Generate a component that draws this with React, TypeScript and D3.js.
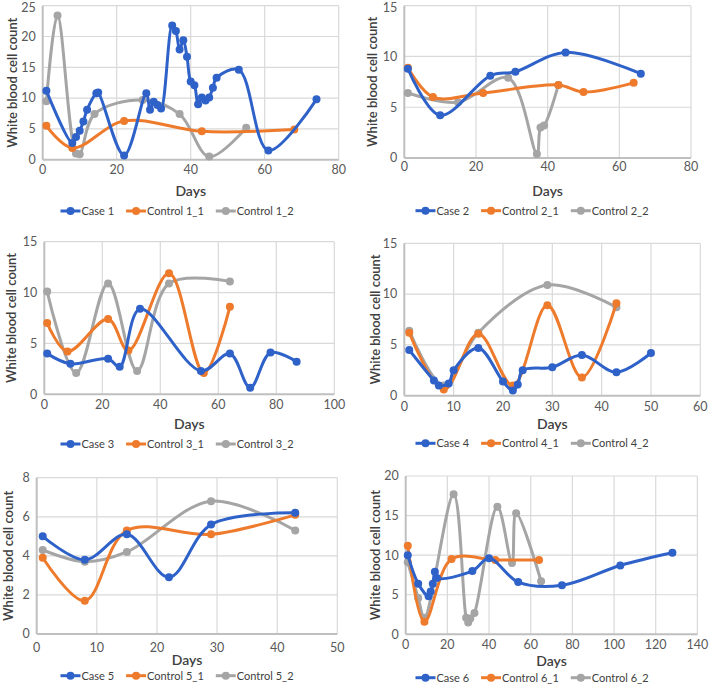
import React, { useEffect, useRef } from "react";
import * as d3 from "d3";

type Pt = [number, number];

// ---------- DATA ----------
const case1: Pt[] = [[1,11.2],[8,2.7],[9,3.7],[10,4.7],[11,6.2],[12,8.1],[14.5,10.8],[15,10.9],[22,0.7],[28,10.8],[29,8.1],[30,9.4],[31,8.9],[32,8.3],[35,21.8],[36,20.9],[37,17.9],[38,19.4],[39,16.7],[40,12.7],[41,12.1],[42,9.0],[43,10.1],[44,9.6],[45,10.1],[46,11.7],[47,13.3],[53,14.6],[61,1.5],[74,9.8]];
const control1_1: Pt[] = [[1,5.5],[8,1.9],[22,6.3],[43,4.6],[68,4.9]];
const control1_2: Pt[] = [[1,9.5],[4,23.4],[9,1.0],[10,0.9],[14,7.4],[27,9.7],[37,7.4],[45,0.5],[55,5.2]];

const case2: Pt[] = [[1,8.8],[10,4.2],[24,8.1],[31,8.5],[45,10.4],[66,8.3]];
const control2_1: Pt[] = [[1,8.9],[8,6.0],[22,6.4],[43,7.2],[50,6.5],[64,7.4]];
const control2_2: Pt[] = [[1,6.4],[15,5.5],[29,7.9],[37,0.4],[38,3.0],[39,3.2],[43,7.2]];

const case3: Pt[] = [[1,4.0],[9,3.0],[22,3.5],[26,2.7],[33,8.4],[54,2.3],[64,4.0],[71,0.65],[78,4.1],[87,3.2]];
const control3_1: Pt[] = [[1,7.0],[8,4.2],[22,7.4],[29,4.3],[43,11.9],[55,2.1],[64,8.6]];
const control3_2: Pt[] = [[1,10.1],[11,2.1],[22,10.9],[32,2.3],[43,10.9],[64,11.1]];

const case4: Pt[] = [[1,4.5],[6,1.5],[7,1.0],[9,1.2],[10,2.5],[15,4.7],[20,1.4],[22,0.5],[23,1.1],[24,2.5],[30,2.8],[36,4.0],[43,2.3],[50,4.2]];
const control4_1: Pt[] = [[1,6.2],[8,0.6],[15,6.1],[22,1.0],[29,8.9],[36,1.8],[43,9.1]];
const control4_2: Pt[] = [[1,6.4],[8,1.0],[15,6.2],[29,10.9],[43,8.7]];

const case5: Pt[] = [[1,5.0],[8,3.8],[15,5.1],[22,2.9],[29,5.6],[43,6.2]];
const control5_1: Pt[] = [[1,3.9],[8,1.7],[15,5.3],[29,5.1],[43,6.1]];
const control5_2: Pt[] = [[1,4.3],[8,3.7],[15,4.2],[29,6.8],[43,5.3]];

const case6: Pt[] = [[1,10.0],[6,6.4],[11,4.8],[12,5.4],[13,6.4],[14,7.9],[15,7.1],[32,8.0],[40,9.6],[54,6.6],[75,6.2],[103,8.7],[128,10.3]];
const control6_1: Pt[] = [[1,11.2],[9,1.6],[22,9.5],[43,9.4],[64,9.4]];
const control6_2: Pt[] = [[1,9.1],[6,4.6],[9,2.1],[23,17.7],[29,2.1],[30,1.5],[31,2.0],[33,2.7],[44,16.1],[51,9.0],[53,15.3],[65,6.7]];

const seriesNames = [
  ["Case 1", "Control 1_1", "Control 1_2"],
  ["Case 2", "Control 2_1", "Control 2_2"],
  ["Case 3", "Control 3_1", "Control 3_2"],
  ["Case 4", "Control 4_1", "Control 4_2"],
  ["Case 5", "Control 5_1", "Control 5_2"],
  ["Case 6", "Control 6_1", "Control 6_2"],
];
const seriesData: Pt[][][] = [
  [case1, control1_1, control1_2],
  [case2, control2_1, control2_2],
  [case3, control3_1, control3_2],
  [case4, control4_1, control4_2],
  [case5, control5_1, control5_2],
  [case6, control6_1, control6_2],
];
const xMaxes = [80, 80, 100, 60, 50, 140];
const xSteps = [20, 20, 20, 10, 10, 20];
const yMaxes = [25, 15, 15, 15, 8, 20];
const ySteps = [5, 5, 5, 5, 2, 5];

// ---------- LAYOUT ----------
const layout = [
  { l: 42.7, r: 338.7, t: 5.7, b: 159.7, tickY: 170, daysY: 190.7, legY: 211, labX: 12.7, cx: 177 },
  { l: 404.3, r: 691, t: 5.7, b: 158, tickY: 167, daysY: 190.7, legY: 210.7, labX: 372, cx: 532 },
  { l: 44.3, r: 334.3, t: 241.7, b: 394.3, tickY: 405, daysY: 424.3, legY: 444, labX: 11.7, cx: 177 },
  { l: 404.3, r: 700.3, t: 243.3, b: 395.7, tickY: 406.7, daysY: 424.3, legY: 443.3, labX: 375.7, cx: 532 },
  { l: 36.7, r: 337.3, t: 477.7, b: 634, tickY: 647.7, daysY: 660, legY: 675.7, labX: 8, cx: 177 },
  { l: 405.7, r: 697.4, t: 476, b: 634.3, tickY: 645, daysY: 661, legY: 677.7, labX: 375, cx: 532 },
];
const colors = ["#2F62C9", "#EE7A2C", "#A5A5A5"];
const FONT = "Lato, 'Open Sans', sans-serif";

export default function App() {
  const ref = useRef<SVGSVGElement>(null);
  useEffect(() => {
    const svg = d3.select(ref.current);
    svg.selectAll("*").remove();
    svg.append("rect").attr("width", 709).attr("height", 688).attr("fill", "#fff");

    layout.forEach((L, i) => {
      const x = d3.scaleLinear().domain([0, xMaxes[i]]).range([L.l, L.r]);
      const y = d3.scaleLinear().domain([0, yMaxes[i]]).range([L.b, L.t]);
      const g = svg.append("g");
      const xt = d3.range(0, xMaxes[i] + 0.001, xSteps[i]);
      const yt = d3.range(0, yMaxes[i] + 0.001, ySteps[i]);
      // grid
      g.selectAll(".vg").data(xt.slice(1)).join("line")
        .attr("x1", (d) => x(d)).attr("x2", (d) => x(d))
        .attr("y1", L.t).attr("y2", L.b)
        .attr("stroke", "#D9D9D9").attr("stroke-width", 1.2);
      g.selectAll(".hg").data(yt.slice(1)).join("line")
        .attr("x1", L.l).attr("x2", L.r)
        .attr("y1", (d) => y(d)).attr("y2", (d) => y(d))
        .attr("stroke", "#D9D9D9").attr("stroke-width", 1.2);
      // axes
      g.append("line").attr("x1", L.l).attr("x2", L.l).attr("y1", L.t).attr("y2", L.b)
        .attr("stroke", "#BFBFBF").attr("stroke-width", 2);
      g.append("line").attr("x1", L.l).attr("x2", L.r).attr("y1", L.b).attr("y2", L.b)
        .attr("stroke", "#BFBFBF").attr("stroke-width", 2);
      // tick labels
      g.selectAll(".xt").data(xt).join("text")
        .attr("x", (d) => x(d)).attr("y", L.tickY).attr("dy", "0.35em")
        .attr("text-anchor", "middle").attr("font-family", FONT).attr("font-size", 12.5)
        .attr("fill", "#595959").text((d) => String(d));
      g.selectAll(".yt").data(yt).join("text")
        .attr("x", L.l - 7).attr("y", (d) => Math.max(y(d), 7.5)).attr("dy", "0.35em")
        .attr("text-anchor", "end").attr("font-family", FONT).attr("font-size", 12.5)
        .attr("fill", "#595959").text((d) => String(d));
      // axis titles
      g.append("text").attr("x", (L.l + L.r) / 2).attr("y", L.daysY).attr("dy", "0.35em")
        .attr("text-anchor", "middle").attr("font-family", FONT).attr("font-size", 14)
        .attr("font-weight", 600).attr("fill", "#404040").text("Days");
      const cy = (L.t + L.b) / 2;
      g.append("text").attr("transform", `translate(${L.labX},${cy}) rotate(-90)`)
        .attr("dy", "0.35em").attr("text-anchor", "middle").attr("font-family", FONT)
        .attr("font-size", 13).attr("font-weight", 600).attr("fill", "#404040")
        .text("White blood cell count");
      // series
      const line = d3.line<Pt>().x((d) => x(d[0])).y((d) => y(d[1]))
        .curve(d3.curveCatmullRom.alpha(0.5));
      const clipId = `clip${i}`;
      svg.append("clipPath").attr("id", clipId).append("rect")
        .attr("x", L.l - 6).attr("y", L.t - 6).attr("width", L.r - L.l + 12).attr("height", L.b - L.t + 6);
      const sg = g.append("g");
      [2, 1, 0].forEach((k) => {
        const data = seriesData[i][k];
        sg.append("path").attr("d", line(data) as string).attr("fill", "none")
          .attr("stroke", colors[k]).attr("stroke-width", 3).attr("stroke-linejoin", "round")
          .attr("stroke-linecap", "round").attr("clip-path", `url(#${clipId})`);
        sg.selectAll(null).data(data).join("circle")
          .attr("cx", (d) => x(d[0])).attr("cy", (d) => y(d[1])).attr("r", 4)
          .attr("fill", colors[k]);
      });
      // legend
      const lg = g.append("g");
      let off = 0;
      seriesNames[i].forEach((name, k) => {
        const it = lg.append("g").attr("transform", `translate(${off},0)`);
        it.append("line").attr("x1", 0).attr("x2", 20).attr("y1", 0).attr("y2", 0)
          .attr("stroke", colors[k]).attr("stroke-width", 3);
        it.append("circle").attr("cx", 10).attr("cy", 0).attr("r", 4).attr("fill", colors[k]);
        const t = it.append("text").attr("x", 21).attr("y", 0).attr("dy", "0.35em")
          .attr("font-family", FONT).attr("font-size", 11).attr("fill", "#404040").text(name);
        const w = (t.node() as SVGTextElement).getComputedTextLength();
        off += 21 + w + 12;
      });
      const total = off - 12;
      lg.attr("transform", `translate(${L.cx - total / 2},${L.legY})`);
    });
  }, []);
  return (
    <svg ref={ref} width={709} height={688}
      style={{ position: "absolute", left: 0, top: 0, display: "block" }} />
  );
}
